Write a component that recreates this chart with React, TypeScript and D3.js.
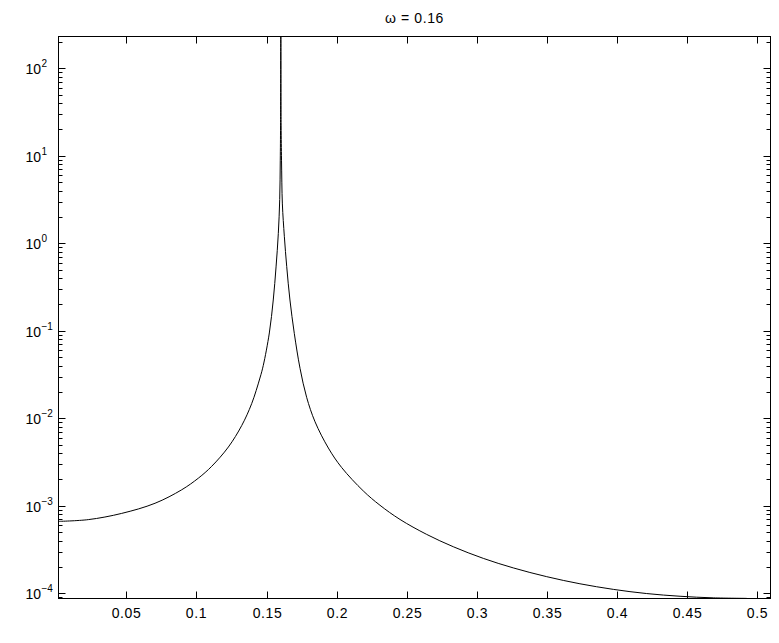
import React from "react";
import * as d3 from "d3";

const TITLE = "ω = 0.16";
const freq = [
  0.0017, 0.0229, 0.0467, 0.0705, 0.0895, 0.1014, 0.1109, 0.1228, 0.1323, 0.1394,
  0.1453, 0.1477, 0.152, 0.1548, 0.1568, 0.1584, 0.1594, 0.1598, 0.16, 0.1602,
  0.1604, 0.1607, 0.1613, 0.1627, 0.1644, 0.1667, 0.1698, 0.1739, 0.1786, 0.1846,
  0.1941, 0.2036, 0.219, 0.2309, 0.2452, 0.2642, 0.2832, 0.3046, 0.326, 0.3498,
  0.3735, 0.3973, 0.4211, 0.4449, 0.4686, 0.4924,
];
const power = [
  6.637e-4, 6.95e-4, 8.185e-4, 1.069e-3, 1.524e-3, 2.07e-3, 2.825e-3, 4.699e-3, 8.26e-3, 1.469e-2,
  2.884e-2, 4.027e-2, 9.44e-2, 0.2249, 0.537, 1.288, 3.162, 8.91, 22.4, 400,
  22.4, 8.91, 2.818, 1.202, 0.541, 0.2249, 0.0935, 0.0372, 0.01738, 9.12e-3,
  4.571e-3, 2.735e-3, 1.479e-3, 1.014e-3, 6.98e-4, 4.71e-4, 3.404e-4, 2.506e-4, 1.95e-4, 1.549e-4,
  1.285e-4, 1.109e-4, 9.93e-5, 9.25e-5, 8.87e-5, 8.75e-5,
];
const xTicks = [0.05, 0.1, 0.15, 0.2, 0.25, 0.3, 0.35, 0.4, 0.45, 0.5];
const xTickLabels = ["0.05", "0.1", "0.15", "0.2", "0.25", "0.3", "0.35", "0.4", "0.45", "0.5"];
const yDecades = [-4, -3, -2, -1, 0, 1, 2];
const xDomain = [0.00165, 0.5094];
const yDomain = [8.72e-5, 230.8];

const W = 779, H = 643;
const L = 58.5, R = 770.5, T = 36.5, B = 598.5;
const FONT = "'Liberation Sans', Arial, Helvetica, sans-serif";

export default function App() {
  const x = d3.scaleLinear().domain(xDomain).range([L, R]);
  const y = d3.scaleLog().domain(yDomain).range([B, T]);
  const data = freq.map((f, i) => [f, power[i]] as [number, number]);
  const line = d3
    .line<[number, number]>()
    .x((d) => x(d[0]))
    .y((d) => y(d[1]))
    .curve(d3.curveCatmullRom.alpha(0.5));

  const minor: number[] = [];
  for (let k = -5; k <= 2; k++) {
    for (let m = 2; m <= 9; m++) {
      const v = m * Math.pow(10, k);
      if (v >= yDomain[0] && v <= yDomain[1]) minor.push(v);
    }
  }
  const maj = 7, mnr = 4;
  return (
    <svg width={W} height={H} style={{ position: "absolute", left: 0, top: 0, background: "#fff" }}>
      <defs>
        <clipPath id="clip">
          <rect x={L} y={T - 0.5} width={R - L} height={B - T + 1} />
        </clipPath>
      </defs>
      <rect x={0} y={0} width={W} height={H} fill="#fff" />
      <path d={line(data) || ""} fill="none" stroke="#000" strokeWidth={1} clipPath="url(#clip)" />
      <rect x={L} y={T} width={R - L} height={B - T} fill="none" stroke="#000" strokeWidth={1} />
      {xTicks.map((t, i) => {
        const px = Math.round(x(t)) + 0.5;
        return (
          <g key={"xt" + i}>
            <line x1={px} x2={px} y1={B} y2={B - maj} stroke="#000" />
            <line x1={px} x2={px} y1={T} y2={T + maj} stroke="#000" />
            <text x={px} y={618} textAnchor="middle" fontFamily={FONT} fontSize={14} letterSpacing={0.6} fill="#000">
              {xTickLabels[i]}
            </text>
          </g>
        );
      })}
      {yDecades.map((k) => {
        const py = Math.round(y(Math.pow(10, k))) + 0.5;
        return (
          <g key={"yt" + k}>
            <line x1={L} x2={L + maj} y1={py} y2={py} stroke="#000" />
            <line x1={R} x2={R - maj} y1={py} y2={py} stroke="#000" />
            <text x={41} y={py + 5} textAnchor="end" fontFamily={FONT} fontSize={14} fill="#000">
              10
            </text>
            <text x={41.5} y={py - 2} textAnchor="start" fontFamily={FONT} fontSize={10} fill="#000">
              {k < 0 ? "\u2212" + Math.abs(k) : String(k)}
            </text>
          </g>
        );
      })}
      {minor.map((v, i) => {
        const py = Math.round(y(v)) + 0.5;
        return (
          <g key={"mn" + i}>
            <line x1={L} x2={L + mnr} y1={py} y2={py} stroke="#000" />
            <line x1={R} x2={R - mnr} y1={py} y2={py} stroke="#000" />
          </g>
        );
      })}
      <text x={(L + R) / 2} y={22.5} textAnchor="middle" fontFamily={FONT} fontSize={14} letterSpacing={0.6} fill="#000">
        {TITLE}
      </text>
    </svg>
  );
}
